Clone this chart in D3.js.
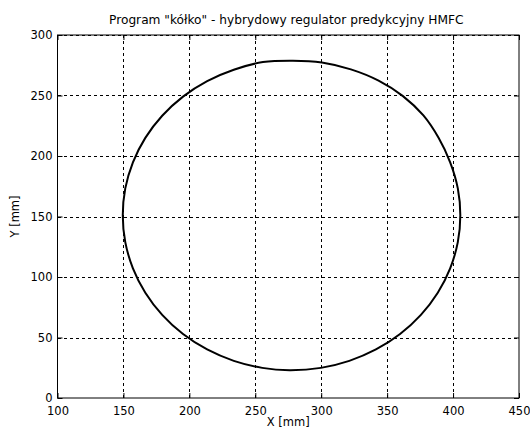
<!DOCTYPE html>
<html>
<head>
<meta charset="utf-8">
<script src="https://cdn.jsdelivr.net/npm/d3@7"></script>
<style>
  body { margin: 0; background: #fff; }
  svg { display: block; font-family: "DejaVu Sans", "Liberation Sans", Arial, sans-serif; }
</style>
</head>
<body>
<svg id="chart" width="530" height="435"></svg>
<script>
// Trajectory of the tool tip, X / Y in mm
const trajX = [405.5, 403.6, 397.8, 389.0, 377.5, 362.0, 343.5, 322.5, 300.5, 278.5,
               255.8, 233.7, 213.5, 195.2, 179.4, 166.6, 157.2, 151.4, 149.5, 151.4,
               157.2, 166.6, 179.4, 195.2, 213.5, 233.7, 255.3, 276.0, 299.7, 321.3,
               341.5, 359.8, 375.6, 388.4, 397.8, 403.6];
const trajY = [151.0, 173.2, 194.8, 215.0, 233.5, 249.5, 262.3, 271.6, 277.3, 278.8,
               277.6, 271.3, 261.9, 249.1, 233.3, 215.0, 194.8, 173.2, 151.0, 128.8,
               107.2, 87.0, 68.7, 52.9, 40.1, 30.7, 24.9, 23.0, 24.9, 30.7,
               40.1, 52.9, 68.7, 87.0, 107.2, 128.8];

const xTicks = [100, 150, 200, 250, 300, 350, 400, 450];
const yTicks = [0, 50, 100, 150, 200, 250, 300];
const titleText = 'Program "kółko" - hybrydowy regulator predykcyjny HMFC';
const xLabel = "X [mm]";
const yLabel = "Y [mm]";

const svg = d3.select("#chart");
const plotL = 57.5, plotR = 519, plotT = 35, plotB = 398;
const fontFamily = "DejaVu Sans, Liberation Sans, Arial, sans-serif";
const fontSize = 11.5;

const x = d3.scaleLinear().domain([100, 450]).range([plotL, plotR]);
const y = d3.scaleLinear().domain([0, 300]).range([plotB, plotT]);

// dotted grid
const grid = svg.append("g").attr("stroke", "#000").attr("stroke-width", 1)
  .attr("stroke-dasharray", "3,3").attr("shape-rendering", "crispEdges");
grid.selectAll("line.gx").data(xTicks.slice(1, -1)).join("line")
  .attr("x1", d => Math.round(x(d)) + 0.5).attr("x2", d => Math.round(x(d)) + 0.5)
  .attr("y1", plotT).attr("y2", plotB);
grid.selectAll("line.gy").data(yTicks.slice(1)).join("line")
  .attr("y1", d => Math.round(y(d)) + 0.5).attr("y2", d => Math.round(y(d)) + 0.5)
  .attr("x1", plotL).attr("x2", plotR);

// axes (ticks pointing inward, on all four sides)
function styleAxis(g) {
  g.select(".domain").remove();
  g.selectAll(".tick line").attr("stroke", "#000");
  g.selectAll(".tick text").attr("fill", "#000").attr("font-size", fontSize)
    .attr("font-family", fontFamily);
}
svg.append("g").attr("transform", `translate(0,${plotB})`)
  .call(d3.axisBottom(x).tickValues(xTicks).tickSize(-5).tickPadding(9).tickFormat(d3.format("d")))
  .call(styleAxis);
svg.append("g").attr("transform", `translate(0,${plotT})`)
  .call(d3.axisTop(x).tickValues(xTicks).tickSize(-5).tickFormat(""))
  .call(styleAxis);
svg.append("g").attr("transform", `translate(${plotL},0)`)
  .call(d3.axisLeft(y).tickValues(yTicks).tickSize(-5).tickPadding(5).tickFormat(d3.format("d")))
  .call(styleAxis);
svg.append("g").attr("transform", `translate(${plotR},0)`)
  .call(d3.axisRight(y).tickValues(yTicks).tickSize(-5).tickFormat(""))
  .call(styleAxis);

// box
svg.append("rect").attr("x", plotL).attr("y", plotT)
  .attr("width", plotR - plotL).attr("height", plotB - plotT)
  .attr("fill", "none").attr("stroke", "#000").attr("stroke-width", 1);

// trajectory
const pts = trajX.map((v, i) => [v, trajY[i]]);
svg.append("path").datum(pts)
  .attr("fill", "none").attr("stroke", "#000").attr("stroke-width", 2)
  .attr("d", d3.line().x(d => x(d[0])).y(d => y(d[1])).curve(d3.curveCatmullRomClosed));

// labels
svg.append("text").attr("x", (plotL + plotR) / 2 - 2).attr("y", 24)
  .attr("text-anchor", "middle").attr("font-size", 12.2).attr("font-family", fontFamily)
  .text(titleText);
svg.append("text").attr("x", (plotL + plotR) / 2).attr("y", 426)
  .attr("text-anchor", "middle").attr("font-size", fontSize).attr("font-family", fontFamily)
  .text(xLabel);
svg.append("text").attr("transform", `translate(19,${(plotT + plotB) / 2}) rotate(-90)`)
  .attr("text-anchor", "middle").attr("font-size", fontSize).attr("font-family", fontFamily)
  .text(yLabel);
</script>
</body>
</html>
